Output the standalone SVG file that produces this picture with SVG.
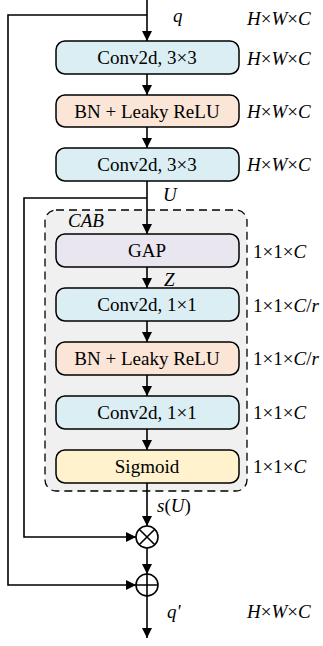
<svg xmlns="http://www.w3.org/2000/svg" width="323" height="646" viewBox="0 0 323 646">
<defs>
<marker id="ah" viewBox="0 0 10 10" refX="10" refY="5" markerWidth="10" markerHeight="10" markerUnits="userSpaceOnUse" orient="auto">
<path d="M0,0 L10,5 L0,10 z" fill="#000"/>
</marker>
<style>
.box{stroke:#000;stroke-width:1.5}
.conv{fill:#daeef3}
.bn{fill:#fbe5d6}
.gap{fill:#e9e6ef}
.sig{fill:#fff2cc}
.lbl{font-family:"Liberation Serif",serif;font-size:19px;text-anchor:middle;fill:#000}
.dim{font-family:"Liberation Serif",serif;font-size:19px;fill:#000}
.it{font-style:italic}
.ln{fill:none;stroke:#000;stroke-width:1.6}
</style>
</defs>
<rect x="0" y="0" width="323" height="646" fill="#fff"/>
<g id="cab">
<rect x="45" y="210" width="202" height="281" rx="11" fill="#f0f0f0" stroke="#000" stroke-width="1.3" stroke-dasharray="8,5"/>
<text x="68" y="227" class="dim it">CAB</text>
</g>
<g id="connectors">
<path class="ln" d="M147,0 V41" marker-end="url(#ah)"/>
<path class="ln" d="M147,15 H8 V585 H136" marker-end="url(#ah)"/>
<path class="ln" d="M147,74 V95" marker-end="url(#ah)"/>
<path class="ln" d="M147,127 V148" marker-end="url(#ah)"/>
<path class="ln" d="M147,181 V234" marker-end="url(#ah)"/>
<path class="ln" d="M147,198 H24 V537 H136" marker-end="url(#ah)"/>
<path class="ln" d="M147,267 V288" marker-end="url(#ah)"/>
<path class="ln" d="M147,321 V342" marker-end="url(#ah)"/>
<path class="ln" d="M147,375 V396" marker-end="url(#ah)"/>
<path class="ln" d="M147,429 V450" marker-end="url(#ah)"/>
<path class="ln" d="M147,483 V526" marker-end="url(#ah)"/>
<path class="ln" d="M147,548 V574" marker-end="url(#ah)"/>
<path class="ln" d="M147,596 V638" marker-end="url(#ah)"/>
</g>
<g id="n_conv1">
<rect class="box conv" x="56" y="41" width="183" height="33" rx="9"/>
<text x="147" y="64" class="lbl">Conv2d, 3×3</text>
</g>
<g id="n_bn1">
<rect class="box bn" x="56" y="95" width="183" height="32" rx="9"/>
<text x="147" y="118" class="lbl">BN + Leaky ReLU</text>
</g>
<g id="n_conv2">
<rect class="box conv" x="56" y="148" width="183" height="33" rx="9"/>
<text x="147" y="171" class="lbl">Conv2d, 3×3</text>
</g>
<g id="n_gap">
<rect class="box gap" x="56" y="234" width="183" height="33" rx="9"/>
<text x="147" y="257" class="lbl">GAP</text>
</g>
<g id="n_conv3">
<rect class="box conv" x="56" y="288" width="183" height="33" rx="9"/>
<text x="147" y="311" class="lbl">Conv2d, 1×1</text>
</g>
<g id="n_bn2">
<rect class="box bn" x="56" y="342" width="183" height="33" rx="9"/>
<text x="147" y="365" class="lbl">BN + Leaky ReLU</text>
</g>
<g id="n_conv4">
<rect class="box conv" x="56" y="396" width="183" height="33" rx="9"/>
<text x="147" y="419" class="lbl">Conv2d, 1×1</text>
</g>
<g id="n_sig">
<rect class="box sig" x="56" y="450" width="183" height="33" rx="9"/>
<text x="147" y="473" class="lbl">Sigmoid</text>
</g>
<g id="n_mul">
<circle cx="147" cy="537" r="11" fill="#fff" stroke="#000" stroke-width="1.6"/>
<path d="M139.2,529.2 L154.8,544.8 M154.8,529.2 L139.2,544.8" stroke="#000" stroke-width="1.6"/>
</g>
<g id="n_add">
<circle cx="147" cy="585" r="11" fill="#fff" stroke="#000" stroke-width="1.6"/>
<path d="M136,585 H158 M147,574 V596" stroke="#000" stroke-width="1.6"/>
</g>
<g id="labels">
<text x="173" y="22" class="dim it" font-size="22">q</text>
<text x="163" y="201" class="dim it">U</text>
<text x="164" y="286" class="dim it">Z</text>
<text x="157" y="512" class="dim"><tspan class="it">s</tspan>(<tspan class="it">U</tspan>)</text>
<text x="167" y="618" class="dim it" font-size="22">q'</text>
<text x="247" y="25" class="dim"><tspan class="it">H</tspan>×<tspan class="it">W</tspan>×<tspan class="it">C</tspan></text>
<text x="247" y="65" class="dim"><tspan class="it">H</tspan>×<tspan class="it">W</tspan>×<tspan class="it">C</tspan></text>
<text x="247" y="118" class="dim"><tspan class="it">H</tspan>×<tspan class="it">W</tspan>×<tspan class="it">C</tspan></text>
<text x="247" y="171" class="dim"><tspan class="it">H</tspan>×<tspan class="it">W</tspan>×<tspan class="it">C</tspan></text>
<text x="253" y="258" class="dim">1×1×<tspan class="it">C</tspan></text>
<text x="253" y="312" class="dim">1×1×<tspan class="it">C</tspan>/<tspan class="it">r</tspan></text>
<text x="253" y="365" class="dim">1×1×<tspan class="it">C</tspan>/<tspan class="it">r</tspan></text>
<text x="253" y="419" class="dim">1×1×<tspan class="it">C</tspan></text>
<text x="253" y="473" class="dim">1×1×<tspan class="it">C</tspan></text>
<text x="247" y="618" class="dim"><tspan class="it">H</tspan>×<tspan class="it">W</tspan>×<tspan class="it">C</tspan></text>
</g>
</svg>
